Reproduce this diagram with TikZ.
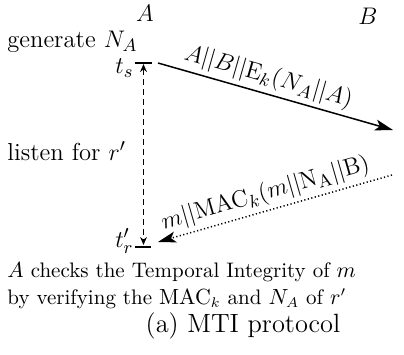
\documentclass[tikz,border=0pt]{standalone}
\usetikzlibrary{arrows.meta}
\begin{document}
\begin{tikzpicture}[x=0.5pt,y=-0.5pt,
  lbl/.style={inner sep=0pt, font=\fontsize{12.3}{15}\selectfont},
  msglbl/.style={inner sep=0pt, font=\fontsize{12.6}{15}\selectfont},
  note/.style={inner sep=0pt, font=\fontsize{10.5}{13.5}\selectfont},
  msg/.style={-{Stealth[length=9pt,width=5.5pt,inset=2.2pt]}, line width=0.75pt},
  tickline/.style={line width=0.75pt},
  wait/.style={dash pattern=on 3pt off 2pt, {Stealth[length=4pt,width=3.4pt]}-{Stealth[length=4pt,width=3.4pt]}, line width=0.7pt}]
\useasboundingbox (0,0) rectangle (404,355);

% parties
\node[lbl] (pa) at (145,13) {$A$};
\node[lbl] (pb) at (368,16) {$B$};

% left-hand notes
\node[lbl, anchor=west] (gen) at (7,42) {generate $N_A$};
\node[lbl, anchor=east] (ts) at (134,68) {$t_s$};
\node[lbl, anchor=west] (listen) at (7,151) {listen for $r'$};
\node[lbl, anchor=east] (tr) at (134,241) {$t'_r$};

% time marks on A's line
\coordinate (ts1) at (135,63);
\coordinate (ts2) at (152,63);
\coordinate (tr1) at (135,247);
\coordinate (tr2) at (151,247);
\draw[tickline] (ts1) -- (ts2);
\draw[tickline] (tr1) -- (tr2);
\coordinate (wtop) at (143.5,64);
\coordinate (wbot) at (143.5,245);
\draw[wait] (wtop) -- (wbot);

% messages
\coordinate (m1s) at (158,63);
\coordinate (m1e) at (393,130);
\draw[msg] (m1s) -- node[msglbl, sloped, above=2pt, pos=0.45] {$A||B||\mathrm{E}_k(N_A||A)$} (m1e);
\coordinate (m2s) at (392,175);
\coordinate (m2e) at (158,242);
\draw[msg, dash pattern=on 0.6pt off 1.2pt] (m2s) -- node[msglbl, sloped, above=2pt, pos=0.52] {$m||\mathrm{MAC}_k(m||\mathrm{N_A}||\mathrm{B})$} (m2e);

% result
\node[note, anchor=north west, align=left] (check) at (7,262)
  {$A$ checks the Temporal Integrity of $m$\\by verifying the $\mathrm{MAC}_k$ and $N_A$ of $r'$};

% caption
\node[inner sep=0pt, font=\fontsize{13.2}{16}\selectfont] (cap) at (243,326) {(a) MTI protocol};
\end{tikzpicture}
\end{document}
